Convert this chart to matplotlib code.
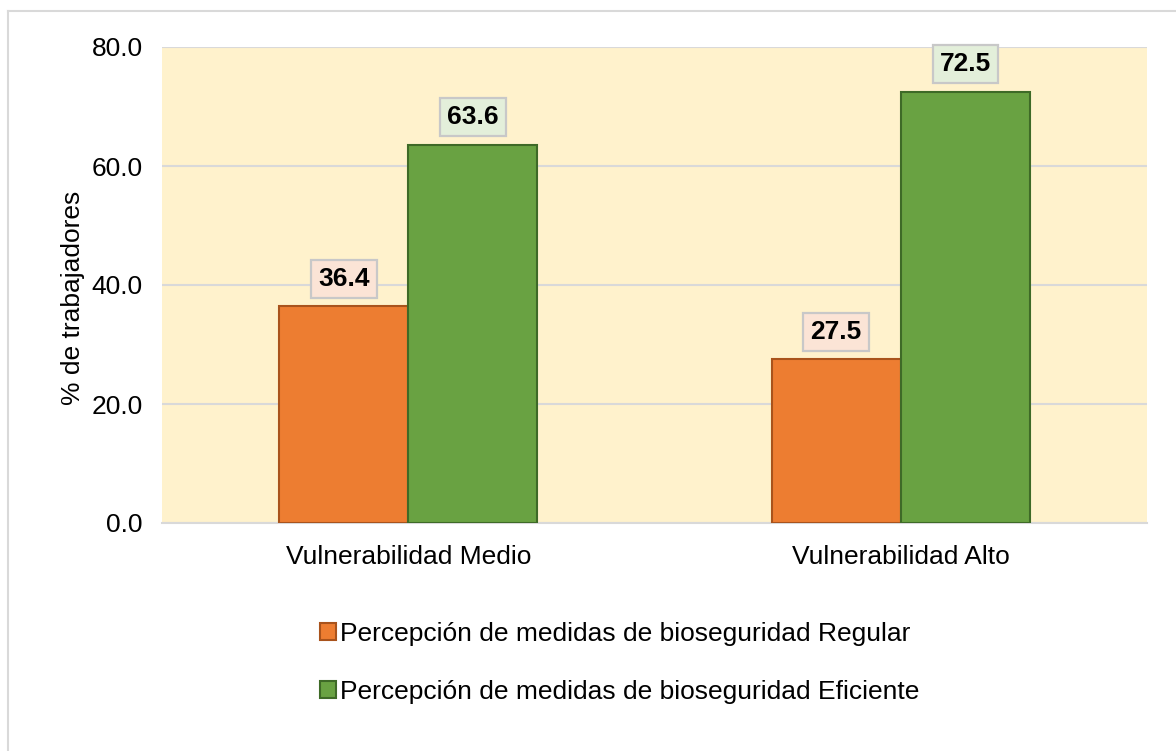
import numpy as np
import matplotlib.pyplot as plt
from matplotlib.patches import Patch

categorias = ["Vulnerabilidad Medio", "Vulnerabilidad Alto"]
regular = [36.4, 27.5]
eficiente = [63.6, 72.5]
series_names = ["Percepción de medidas de bioseguridad Regular",
                "Percepción de medidas de bioseguridad Eficiente"]
yticks = [0, 20, 40, 60, 80]

plt.rcParams["font.family"] = ["Liberation Sans", "DejaVu Sans"]

fig = plt.figure(figsize=(11.76, 7.51), dpi=100)
ax = fig.add_axes([162 / 1176, 1 - 523 / 751, (1147 - 162) / 1176, (523 - 47) / 751])

x = np.arange(len(categorias))
w = 0.262
bars_r = ax.bar(x - w / 2, regular, w, color="#ED7D31", edgecolor="#A9531C", linewidth=1.5,
                label=series_names[0], zorder=3)
bars_e = ax.bar(x + w / 2, eficiente, w, color="#69A242", edgecolor="#3E6A27", linewidth=1.5,
                label=series_names[1], zorder=3)

# etiquetas de datos con caja
for bars, fc in [(bars_r, "#FBE4D6"), (bars_e, "#E3EFDA")]:
    for b in bars:
        ax.annotate(f"{b.get_height():.1f}", (b.get_x() + b.get_width() / 2, b.get_height()),
                    xytext=(0, 11), textcoords="offset points", ha="center", va="bottom",
                    fontsize=19, fontweight="bold",
                    bbox=dict(boxstyle="square,pad=0.27", fc=fc, ec="#C8C8C8", lw=1.6))

ax.set_xlim(-0.5, 1.5)
ax.set_ylim(0, 80)
ax.set_yticks(yticks)
ax.set_yticklabels([f"{v:.1f}" for v in yticks], fontsize=19)
ax.set_xticks(x)
ax.set_xticklabels(categorias, fontsize=19)
ax.tick_params(length=0)
ax.tick_params(axis="y", pad=14)
ax.tick_params(axis="x", pad=16)
ax.set_facecolor("#FFF2CC")
ax.grid(axis="y", color="#D9D9D9", linewidth=1.5, zorder=0)
for s in ["left", "right", "top"]:
    ax.spines[s].set_visible(False)
ax.spines["bottom"].set_color("#D9D9D9")
ax.spines["bottom"].set_linewidth(1.5)
ax.set_ylabel("% de trabajadores", fontsize=19)
ax.yaxis.set_label_coords(-0.078, 0.473)

handles = [Patch(fc="#ED7D31", ec="#A9531C", lw=1.5), Patch(fc="#69A242", ec="#3E6A27", lw=1.5)]
fig.legend(handles, series_names, loc="center", bbox_to_anchor=(620 / 1176, 1 - 663 / 751),
           ncol=1, frameon=False, fontsize=19, handlelength=0.6, handleheight=0.6,
           handletextpad=0.15, labelspacing=1.3)

# marco exterior
fig.add_artist(plt.Line2D([8 / 1176, 8 / 1176], [0, 1 - 11 / 751], color="#D9D9D9", lw=1.5))
fig.add_artist(plt.Line2D([8 / 1176, 1], [1 - 11 / 751, 1 - 11 / 751], color="#D9D9D9", lw=1.5))

fig.savefig("out.png", dpi=100)
